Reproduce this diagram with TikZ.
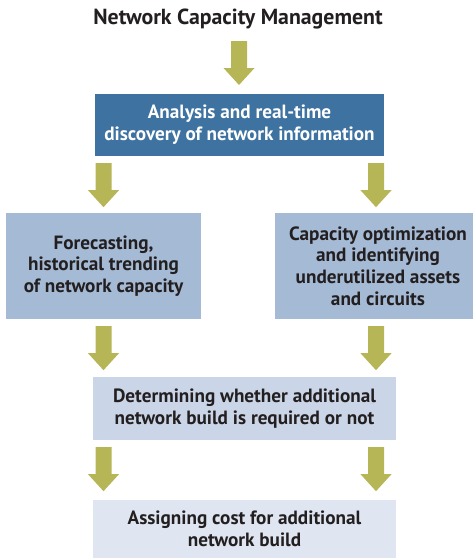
\documentclass[tikz,border=0pt]{standalone}
\usepackage{fontspec}
\setmainfont{PT Sans}
\definecolor{deepblue}{HTML}{3E72A0}
\definecolor{midblue}{HTML}{A5BAD4}
\definecolor{paleblue}{HTML}{CAD6E7}
\definecolor{faintblue}{HTML}{DFE6F1}
\definecolor{olive}{HTML}{B7B657}
\definecolor{ink}{HTML}{231F20}
\tikzset{
  box/.style={rectangle, inner sep=0pt, align=center, font=\bfseries\fontsize{19.2}{21.8}\selectfont, text=ink},
  darkbox/.style={box, fill=deepblue, text=white},
  % block arrow: shaft 16 wide, head 31 wide, 17 long
  flow/.pic={
    \fill[olive] (-8,0) -- (8,0) -- (8,-27) -- (15.5,-27) -- (0,-44) -- (-15.5,-27) -- (-8,-27) -- cycle;
  }
}
\begin{document}
\begin{tikzpicture}[x=1pt,y=1pt]
\useasboundingbox (0,0) rectangle (473,-558);
\clip (0,0) rectangle (473,-558);

\node[font=\bfseries\fontsize{21.8}{24}\selectfont, text=ink] (title) at (238,-19) {Network Capacity Management};

\node[darkbox, minimum width=289pt, minimum height=62pt] (discover) at (239.5,-125) {Analysis and real-time\\discovery of network information};

\node[box, fill=midblue, minimum width=195pt, minimum height=106pt] (forecast) at (103.5,-266) {Forecasting,\\historical trending\\of network capacity};
% this box runs on past the right edge of the page
\node[box, fill=midblue, minimum width=206pt, minimum height=106pt] (optimize) at (378,-266) {Capacity optimization\\and identifying\\underutilized assets\\and circuits};

\node[box, fill=paleblue, minimum width=303pt, minimum height=63pt] (decide) at (244.5,-408.5) {Determining whether additional\\network build is required or not};

\node[box, fill=faintblue, minimum width=303pt, minimum height=58pt] (cost) at (244.5,-529) {Assigning cost for additional\\network build};

% block arrows between the stages
\coordinate (a0) at (239,-41);
\pic at (a0) {flow};
\coordinate (a1) at ([yshift=-7pt]discover.south -| forecast.center);
\pic at (a1) {flow};
\coordinate (a2) at ([yshift=-7pt]discover.south -| 376,0);
\pic at (a2) {flow};
\coordinate (a3) at ([yshift=-7pt]forecast.south);
\pic at (a3) {flow};
\coordinate (a4) at ([yshift=-7pt]optimize.south -| a2);
\pic at (a4) {flow};
\coordinate (a5) at ([yshift=-7pt]decide.south -| forecast.center);
\pic at (a5) {flow};
\coordinate (a6) at ([yshift=-7pt]decide.south -| a2);
\pic at (a6) {flow};
\end{tikzpicture}
\end{document}
